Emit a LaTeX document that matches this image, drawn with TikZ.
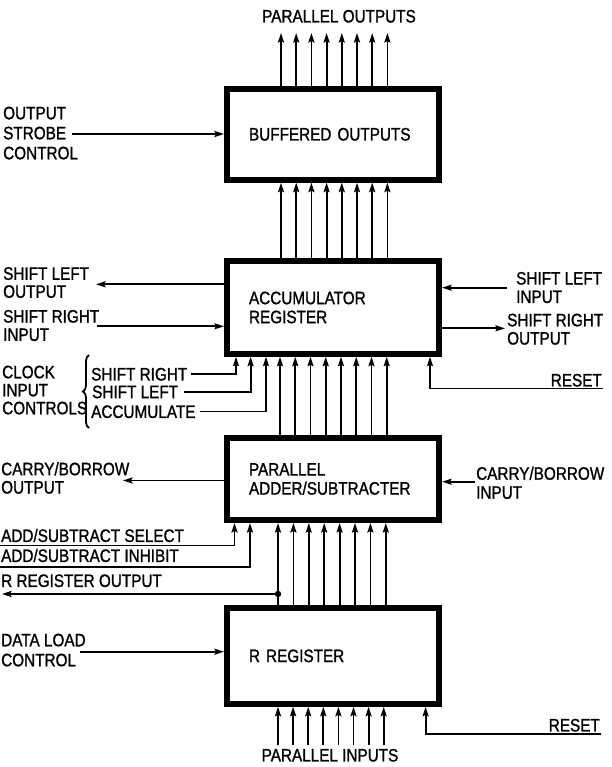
\documentclass[tikz,border=0pt]{standalone}
\usepackage{fontspec}
\setmainfont{Liberation Sans}[FakeStretch=0.85,FakeBold=1.2]
\usetikzlibrary{arrows.meta,decorations.pathreplacing,calc}
\tikzset{
  blk/.style={draw, line width=6pt, fill=white, minimum width=212pt, text width=168pt,
    align=left, inner sep=0pt, font=\fontsize{18}{19}\selectfont},
  lbl/.style={inner sep=0pt, align=left, anchor=north west, font=\fontsize{18}{#1}\selectfont},
  lbl/.default=19pt,
  one/.style={inner sep=0pt, font=\fontsize{18}{19}\selectfont, text height=12.9pt, text depth=0pt},
  wire/.style={line width=1.8pt},
  arr/.style={wire, -{Stealth[length=9.5pt,width=6pt,inset=1.5pt]}},
}
\begin{document}
\begin{tikzpicture}[x=1pt,y=-1pt]
\useasboundingbox (0,0) rectangle (611,767);
% blocks
\node[blk, minimum height=90.7pt] (buf) at (333,134.3) {BUFFERED OUTPUTS};
\node[blk, minimum height=92.4pt] (acc) at (333,307.5) {ACCUMULATOR\\REGISTER};
\node[blk, minimum height=82pt] (add) at (333,479) {PARALLEL\\ADDER/SUBTRACTER};
\node[blk, minimum height=95.7pt] (rreg) at (333,655.9) {R REGISTER};
% parallel outputs
\node[one] (pout) at (339,16) {PARALLEL OUTPUTS};
\foreach \i [evaluate=\i as \xx using 281+15.2*\i] in {0,...,7}
  \draw[arr] (\xx,0 |- buf.north) -- (\xx,33);
% buffered <- accumulator
\foreach \i [evaluate=\i as \xx using 281+15.2*\i] in {0,...,7}
  \draw[arr] (\xx,0 |- acc.north) -- (\xx,0 |- buf.south);
% output strobe
\node[lbl=20pt] (strobeT) at (3,106.5) {OUTPUT\\STROBE\\CONTROL};
\coordinate (strobe) at (72,134);
\draw[arr] (strobe) -- (strobe -| buf.west);
% accumulator left side
\node[lbl=18pt] (sloT) at (3,267) {SHIFT LEFT\\OUTPUT};
\coordinate (slo) at (96,284.3);
\draw[arr] (slo -| acc.west) -- (slo);
\node[lbl=18.3pt] (sriT) at (3,309.8) {SHIFT RIGHT\\INPUT};
\coordinate (sri) at (97,326.3);
\draw[arr] (sri) -- (sri -| acc.west);
% accumulator right side
\node[lbl=18.4pt] (sliT) at (516,271.8) {SHIFT LEFT\\INPUT};
\coordinate (sli) at (507,287.7);
\draw[arr] (sli) -- (sli -| acc.east);
\node[lbl=18.3pt] (sroT) at (507,313.5) {SHIFT RIGHT\\OUTPUT};
\coordinate (sro) at (505,328.3);
\draw[arr] (sro -| acc.east) -- (sro);
% clock input controls
\node[lbl=18pt] (clk) at (2,365.5) {CLOCK\\INPUT\\CONTROLS};
\draw[wire, decorate, decoration={brace, amplitude=6pt}] (89,428) -- (89,355);
\node[one, anchor=west] (csr) at (91,374) {SHIFT RIGHT};
\node[one, anchor=west] (csl) at (92,391.7) {SHIFT LEFT};
\node[one, anchor=west] (cac) at (91,411.5) {ACCUMULATE};
\draw[arr] ([xshift=4pt]csr.east) -| (236,0 |- acc.south);
\draw[arr] ([xshift=6pt]csl.east) -| (250.6,0 |- acc.south);
\draw[arr] ([xshift=4pt]cac.east) -| (266,0 |- acc.south);
% accumulator reset
\node[one, anchor=east] (rst1T) at (602,380) {RESET};
\coordinate (rst1) at (603,388.5);
\draw[arr] (rst1) -| (430,0 |- acc.south);
% accumulator <- adder
\foreach \i [evaluate=\i as \xx using 280+15.25*\i] in {0,...,7}
  \draw[arr] (\xx,0 |- add.north) -- (\xx,0 |- acc.south);
% adder sides
\node[lbl=18.3pt] (cboT) at (1,462) {CARRY/BORROW\\OUTPUT};
\coordinate (cbo) at (123,480.5);
\draw[arr] (cbo -| add.west) -- (cbo);
\node[lbl=19pt] (cbiT) at (476,466.5) {CARRY/BORROW\\INPUT};
\coordinate (cbi) at (475,481.7);
\draw[arr] (cbi) -- (cbi -| add.east);
% add/subtract controls
\node[one, anchor=west] (ass) at (1,535.5) {ADD/SUBTRACT SELECT};
\coordinate (assL) at (0,545.5);
\draw[arr] (assL) -| (234.5,0 |- add.south);
\node[one, anchor=west] (asi) at (1,555.5) {ADD/SUBTRACT INHIBIT};
\coordinate (asiL) at (0,566.7);
\draw[arr] (asiL) -| (250,0 |- add.south);
% R register output
\node[one, anchor=west] (rro) at (1,580.5) {R REGISTER OUTPUT};
\coordinate (rrodot) at (278,594);
\coordinate (rroL) at (2,594);
\draw[arr] (rrodot) -- (rroL);
\fill (rrodot) circle (3.2pt);
% adder <- R register
\foreach \i [evaluate=\i as \xx using 278+15.4*\i] in {0,...,7}
  \draw[arr] (\xx,0 |- rreg.north) -- (\xx,0 |- add.south);
% data load control
\node[lbl=20pt] (dlT) at (1,633.5) {DATA LOAD\\CONTROL};
\coordinate (dl) at (80,651.7);
\draw[arr] (dl) -- (dl -| rreg.west);
% parallel inputs
\foreach \i [evaluate=\i as \xx using 278+15.1*\i] in {0,...,7}
  \draw[arr] (\xx,745) -- (\xx,0 |- rreg.south);
\node[one] (pin) at (330,755) {PARALLEL INPUTS};
% R register reset
\node[one, anchor=east] (rst2T) at (600,725) {RESET};
\coordinate (rst2) at (601,734);
\draw[arr] (rst2) -| (425.6,0 |- rreg.south);
\end{tikzpicture}
\end{document}
